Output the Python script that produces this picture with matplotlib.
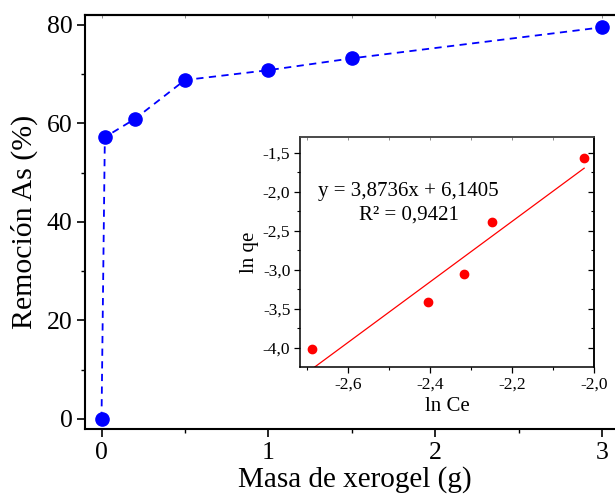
import matplotlib
matplotlib.use("Agg")
import matplotlib.pyplot as plt
import numpy as np

plt.rcParams['font.family'] = ['Liberation Serif', 'DejaVu Serif']
plt.rcParams['mathtext.fontset'] = 'stix'

# Main data
masa = [0.0, 0.02, 0.2, 0.5, 1.0, 1.5, 3.0]
remocion = [0.0, 57.2, 60.9, 68.8, 70.8, 73.2, 79.5]

# Inset data
ln_ce = [-2.688, -2.404, -2.318, -2.248, -2.024]
ln_qe = [-4.02, -3.41, -3.05, -2.39, -1.57]
slope, intercept = 3.8736, 6.1405

main_xticks = [0, 1, 2, 3]
main_yticks = [0, 20, 40, 60, 80]
inset_xticks = [-2.6, -2.4, -2.2, -2.0]
inset_xlabels = ['-2,6', '-2,4', '-2,2', '-2,0']
inset_yticks = [-4.0, -3.5, -3.0, -2.5, -2.0, -1.5]
inset_ylabels = ['-4,0', '-3,5', '-3,0', '-2,5', '-2,0', '-1,5']

W, H = 615, 498
fig = plt.figure(figsize=(W / 100, H / 100), dpi=100)

L, R, T, B = 85, 625, 15, 429
ax = fig.add_axes([L / W, 1 - B / H, (R - L) / W, (B - T) / H])
ax.plot(masa, remocion, linestyle=(0, (4, 3)), color='#0000ff', lw=1.3,
        marker='o', markersize=9.5, markerfacecolor='#0000ff', markeredgecolor='#0000ff')
ax.set_xlim(-0.099, 3.138)
ax.set_ylim(-2.03, 82.0)
ax.set_xticks(main_xticks)
ax.set_yticks(main_yticks)
ax.set_xticks([0.5, 1.5, 2.5], minor=True)
ax.set_yticks([10, 30, 50, 70], minor=True)
ax.tick_params(axis='both', which='major', direction='out', length=5.5, width=1.2, labelsize=18.5, pad=3.5)
ax.tick_params(axis='both', which='minor', direction='out', length=2.7, width=1.0)
ax.tick_params(top=False, right=False)
for s in ['left', 'bottom', 'top']:
    ax.spines[s].set_linewidth(1.5)
ax.spines['right'].set_visible(False)
secx = ax.secondary_xaxis('top')
secx.set_xticks(main_xticks + [0.5, 1.5, 2.5])
secx.tick_params(direction='in', length=2, width=0.6, labeltop=False, color='#777777')
secx.spines['top'].set_linewidth(1.5)
ax.set_xlabel('Masa de xerogel (g)', fontsize=21, labelpad=2)
ax.set_ylabel('Remoción As (%)', fontsize=21.5, labelpad=6)

# Inset
iL, iR, iT, iB = 300, 594, 137, 367
ins = fig.add_axes([iL / W, 1 - iB / H, (iR - iL) / W, (iB - iT) / H])
ins.plot(ln_ce, ln_qe, 'o', color='#ff0000', markersize=6)
xl = np.array([min(ln_ce), max(ln_ce)])
ins.plot(xl, slope * xl + intercept, color='#ff0000', lw=0.9)
ins.set_xlim(-2.717, -2.0)
ins.set_ylim(-4.245, -1.30)
ins.set_xticks(inset_xticks)
ins.set_xticklabels(inset_xlabels)
ins.set_yticks(inset_yticks)
ins.set_yticklabels(inset_ylabels)
ins.set_xticks([-2.7, -2.5, -2.3, -2.1], minor=True)
ins.set_yticks([-3.75, -3.25, -2.75, -2.25, -1.75], minor=True)
ins.tick_params(axis='both', which='major', direction='out', length=4, width=0.9, labelsize=12.5, pad=3)
ins.tick_params(axis='both', which='minor', direction='out', length=2.5, width=0.8)
for s in ins.spines.values():
    s.set_linewidth(1.1)
ins.spines['top'].set_color('#555555')
sx = ins.secondary_xaxis('top')
sx.set_xticks(inset_xticks + [-2.7, -2.5, -2.3, -2.1])
sx.tick_params(direction='in', length=2, width=0.6, labeltop=False, color='#777777')
sx.spines['top'].set_linewidth(1.1)
sy = ins.secondary_yaxis('right')
sy.set_yticks(inset_yticks)
sy.set_yticks([-3.75, -3.25, -2.75, -2.25, -1.75], minor=True)
sy.tick_params(which='major', direction='in', length=4, width=0.9, labelright=False)
sy.tick_params(which='minor', direction='in', length=2.5, width=0.8)
sy.spines['right'].set_linewidth(1.1)
ins.set_xlabel('ln Ce', fontsize=15, labelpad=3)
ins.set_ylabel('ln qe', fontsize=15, labelpad=3)
ins.text(-2.454, -2.0, 'y = 3,8736x + 6,1405', fontsize=15, ha='center', va='center')
ins.text(-2.452, -2.30, 'R² = 0,9421', fontsize=15, ha='center', va='center')

fig.savefig('out.png', dpi=100)
